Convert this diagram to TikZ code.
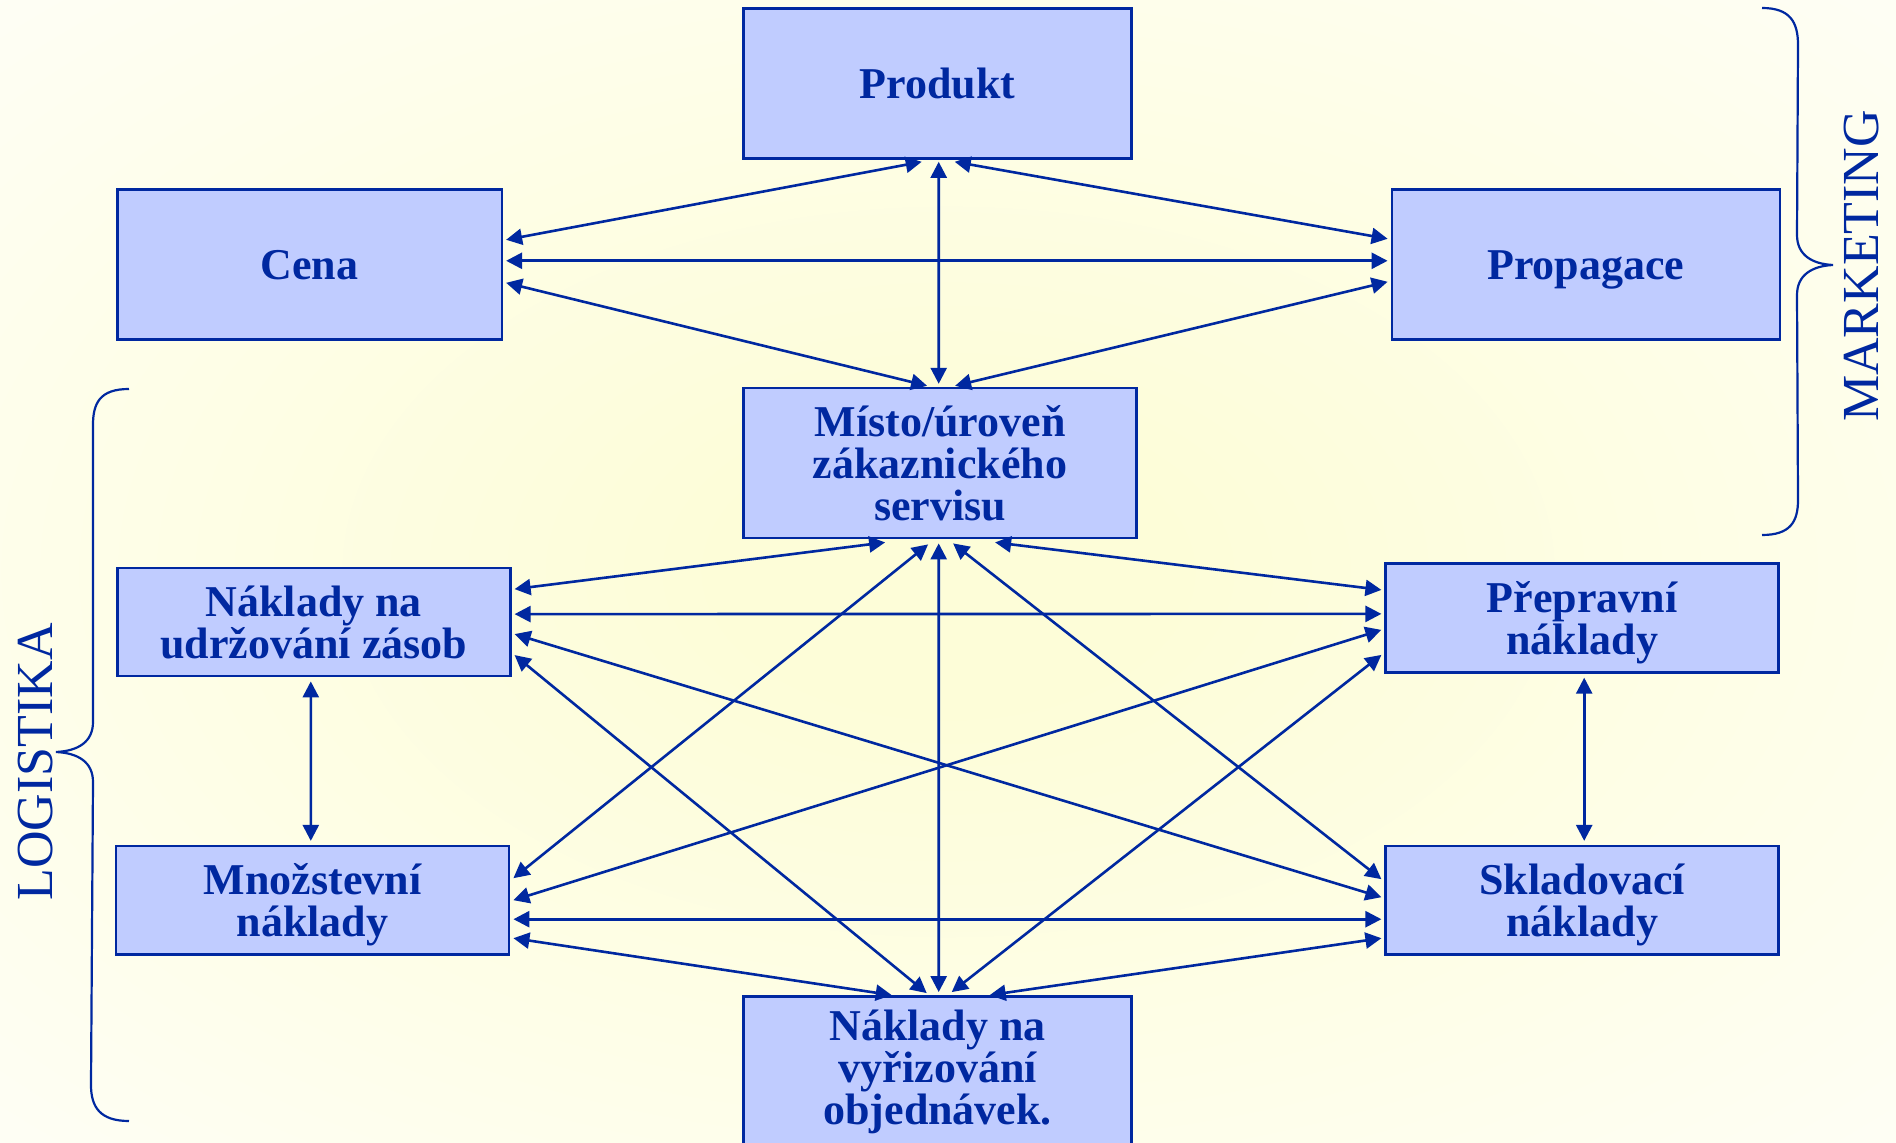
\documentclass[tikz,border=0pt]{standalone}
\usepackage{fontspec}
\setmainfont{Liberation Serif}
\usetikzlibrary{arrows.meta,calc}
\definecolor{dblue}{RGB}{0,40,160}
\definecolor{boxfill}{RGB}{192,204,255}
\definecolor{bgyellow}{RGB}{253,253,216}
\pgfdeclareradialshading{bgshade}{\pgfpoint{0bp}{0bp}}{color(0bp)=(bgyellow); color(6bp)=(bgyellow); color(46bp)=(white); color(100bp)=(white)}
\begin{document}
\begin{tikzpicture}[x=0.5pt,y=-0.5pt,
  box/.style={draw=dblue, line width=1.3pt, fill=boxfill, text=dblue,
    font=\fontsize{22}{21}\selectfont\bfseries, align=center, inner sep=0pt},
  bigbox/.style={box, minimum width=194pt, minimum height=75pt},
  smallbox/.style={box, minimum width=196.5pt, minimum height=54pt},
  link/.style={draw=dblue, line width=1.3pt,
    {Triangle[length=8pt,width=8pt]}-{Triangle[length=8pt,width=8pt]}},
  bracepath/.style={draw=dblue, line width=1.1pt},
  sidelabel/.style={text=dblue, font=\fontsize{26}{26}\selectfont, inner sep=0pt, rotate=90}]
\useasboundingbox (0,0) rectangle (1896,1143);
\shade[shading=bgshade] (0,0) rectangle (1896,1143);

% nodes
\node[bigbox] (prod) at (937.7,83.5) {Produkt};
\node[bigbox, minimum width=192.3pt] (cena) at (309.5,264.8) {Cena};
\node[bigbox, text depth=0pt] (prop) at (1585.9,264.8) {Propagace};
\node[bigbox, minimum width=196.5pt] (misto) at (940.1,463.1) {Místo/úroveň\\zákaznického\\servisu};
\node[smallbox] (udrz) at (313.8,622.1) {Náklady na\\udržování zásob};
\node[smallbox, minimum height=54.5pt, text depth=0pt] (prep) at (1582.2,617.9) {Přepravní\\náklady};
\node[smallbox, text depth=0pt] (mnoz) at (312.6,900.2) {Množstevní\\náklady};
\node[smallbox, text depth=0pt] (sklad) at (1582.2,900.2) {Skladovací\\náklady};
\node[bigbox] (objed) at (937.7,1071.4) {Náklady na\\vyřizování\\objednávek.};

% marketing mix connectors
\draw[link] ($(prod.south)+(-16,2)$) -- ($(cena.east)+(3,-25)$);
\draw[link] ($(prod.south)+(17,2)$) -- ($(prop.west)+(-3,-26)$);
\draw[link] ($(prod.south)+(1,2)$) -- ($(misto.north)+(-1.4,-3)$);
\draw[link] ($(cena.east)+(3,-4)$) -- ($(prop.west)+(-3,-4)$);
\draw[link] ($(cena.east)+(3,18)$) -- ($(misto.north)+(-13,-1)$);
\draw[link] ($(prop.west)+(-3,17)$) -- ($(misto.north)+(15,-1)$);

% logistics connectors
\draw[link] ($(misto.south)+(-55,3)$) -- ($(udrz.east)+(3,-33)$);
\draw[link] ($(misto.south)+(55,3)$) -- ($(prep.west)+(-3,-28)$);
\draw[link] ($(misto.south)+(-12,5)$) -- ($(mnoz.east)+(3,-22)$);
\draw[link] ($(misto.south)+(13,4)$) -- ($(sklad.west)+(-3,-21)$);
\draw[link] ($(misto.south)+(-1.4,4)$) -- ($(objed.north)+(1,-3)$);
\draw[link] ($(udrz.east)+(3,-8)$) -- ($(prep.west)+(-3,-4)$);
\draw[link] ($(udrz.east)+(3,12)$) -- ($(sklad.west)+(-3,-3)$);
\draw[link] ($(udrz.east)+(3,33)$) -- ($(objed.north)+(-11,-2)$);
\draw[link] ($(udrz.south)+(-3,4)$) -- ($(mnoz.north)+(-1.8,-4)$);
\draw[link] ($(prep.west)+(-3,12)$) -- ($(mnoz.east)+(3,0)$);
\draw[link] ($(prep.west)+(-3,37)$) -- ($(objed.north)+(14,-3)$);
\draw[link] ($(prep.south)+(2,4)$) -- ($(sklad.north)+(2,-4)$);
\draw[link] ($(mnoz.east)+(3,19)$) -- ($(sklad.west)+(-3,19)$);
\draw[link] ($(mnoz.east)+(3,38)$) -- ($(objed.north)+(-46,0)$);
\draw[link] ($(sklad.west)+(-3,38)$) -- ($(objed.north)+(52,0)$);

% braces
\draw[bracepath] (1762,8) .. controls (1790,8) and (1798,22) .. (1798,45)
  -- (1797,235) .. controls (1797,255) and (1812,264) .. (1833,265)
  .. controls (1812,266) and (1797,275) .. (1797,295)
  -- (1798,500) .. controls (1798,522) and (1790,535) .. (1762,535);
\draw[bracepath] (129,389) .. controls (100,389) and (93,403) .. (93,425)
  -- (93,722) .. controls (93,742) and (78,751) .. (56,752)
  .. controls (78,753) and (93,762) .. (93,782)
  -- (91,1085) .. controls (91,1107) and (100,1121) .. (129,1121);

\node[sidelabel] (mk) at (1862,266) {MARKETING};
\node[sidelabel] (lg) at (36,762) {LOGISTIKA};
\end{tikzpicture}
\end{document}
